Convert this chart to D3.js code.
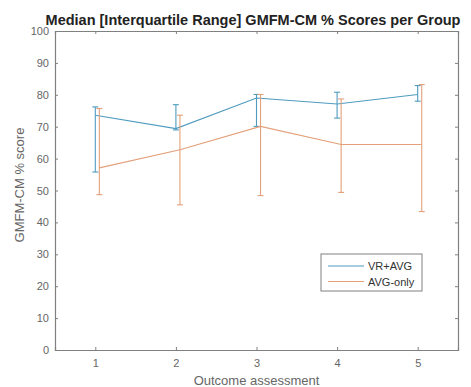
<!DOCTYPE html>
<html>
<head>
<meta charset="utf-8">
<script src="https://cdn.jsdelivr.net/npm/d3@7"></script>
<style>
  body { margin: 0; background: #fff; }
  text { font-family: "Liberation Sans", Arial, sans-serif; }
</style>
</head>
<body>
<svg id="chart" width="471" height="387"></svg>
<script>
// Outcome assessments (x) and per-group median with interquartile range
const assessments = [1, 2, 3, 4, 5];
const seriesNames = ["VR+AVG", "AVG-only"];

const vrMedian = [73.6, 69.4, 79.0, 77.1, 80.1];
const vrLower  = [55.8, 69.0, 70.1, 72.7, 78.0];
const vrUpper  = [76.2, 76.9, 80.1, 80.8, 82.9];

const avgMedian = [57.1, 62.8, 70.1, 64.4, 64.4];
const avgLower  = [48.7, 45.5, 48.4, 49.4, 43.4];
const avgUpper  = [75.7, 73.6, 80.1, 78.7, 83.2];

const yTicks = [0, 10, 20, 30, 40, 50, 60, 70, 80, 90, 100];

const colors = ["#4f9bbf", "#e3a07a"];
const xOffsets = [0, 0.05];

const series = [
  { name: seriesNames[0], med: vrMedian, lo: vrLower, hi: vrUpper },
  { name: seriesNames[1], med: avgMedian, lo: avgLower, hi: avgUpper }
];

const svg = d3.select("#chart");
const m = { left: 55, right: 13, top: 31, bottom: 37 };
const W = 471, H = 387;

const x = d3.scaleLinear().domain([0.5, 5.5]).range([m.left, W - m.right]);
const y = d3.scaleLinear().domain([0, 100]).range([H - m.bottom, m.top]);

const axisColor = "#808080";
const labelColor = "#666";

// axes with inward ticks on all four sides
const axBottom = svg.append("g").attr("transform", `translate(0,${y(0)})`)
  .call(d3.axisBottom(x).tickValues(assessments).tickSize(-3).tickPadding(9).tickFormat(d3.format("d")));
const axTop = svg.append("g").attr("transform", `translate(0,${y(100)})`)
  .call(d3.axisTop(x).tickValues(assessments).tickSize(-3).tickFormat(""));
const axLeft = svg.append("g").attr("transform", `translate(${x(0.5)},0)`)
  .call(d3.axisLeft(y).tickValues(yTicks).tickSize(-3).tickPadding(6));
const axRight = svg.append("g").attr("transform", `translate(${x(5.5)},0)`)
  .call(d3.axisRight(y).tickValues(yTicks).tickSize(-3).tickFormat(""));

[axBottom, axTop, axLeft, axRight].forEach(g => {
  g.select(".domain").attr("stroke", axisColor).attr("stroke-width", 1.2);
  g.selectAll(".tick line").attr("stroke", axisColor);
  g.selectAll(".tick text").attr("fill", labelColor).style("font-size", "11px")
    .style("font-family", "Liberation Sans, Arial, sans-serif");
});

// series lines and error bars
const line = d3.line();
series.forEach((s, i) => {
  const g = svg.append("g");
  const pts = assessments.map((a, j) => [x(a + xOffsets[i]), y(s.med[j])]);
  g.append("path").attr("d", line(pts)).attr("fill", "none")
    .attr("stroke", colors[i]).attr("stroke-width", 1.1);
  assessments.forEach((a, j) => {
    const cx = x(a + xOffsets[i]);
    g.append("line").attr("x1", cx).attr("x2", cx)
      .attr("y1", y(s.lo[j])).attr("y2", y(s.hi[j]))
      .attr("stroke", colors[i]).attr("stroke-width", 1.1);
    [s.lo[j], s.hi[j]].forEach(v => {
      g.append("line").attr("x1", cx - 3).attr("x2", cx + 3)
        .attr("y1", y(v)).attr("y2", y(v))
        .attr("stroke", colors[i]).attr("stroke-width", 1.1);
    });
  });
});

// title and axis labels
svg.append("text").attr("x", 253).attr("y", 25).attr("text-anchor", "middle")
  .style("font-size", "14.5px").style("font-weight", "bold").attr("fill", "#222")
  .text("Median [Interquartile Range] GMFM-CM % Scores per Group");
svg.append("text").attr("x", (x(0.5) + x(5.5)) / 2).attr("y", 385).attr("text-anchor", "middle")
  .style("font-size", "13px").attr("fill", labelColor).text("Outcome assessment");
svg.append("text").attr("transform", `translate(24,185) rotate(-90)`)
  .attr("text-anchor", "middle").style("font-size", "13px").attr("fill", labelColor)
  .text("GMFM-CM % score");

// legend
const lg = svg.append("g").attr("transform", "translate(321,254)");
lg.append("rect").attr("width", 101).attr("height", 37)
  .attr("fill", "#fff").attr("stroke", axisColor).attr("stroke-width", 1);
series.forEach((s, i) => {
  const ly = 12 + i * 15.5;
  lg.append("line").attr("x1", 7).attr("x2", 43).attr("y1", ly).attr("y2", ly)
    .attr("stroke", colors[i]).attr("stroke-width", 1.1);
  lg.append("text").attr("x", 47).attr("y", ly + 4).style("font-size", "11px")
    .attr("fill", "#333").text(s.name);
});
</script>
</body>
</html>
